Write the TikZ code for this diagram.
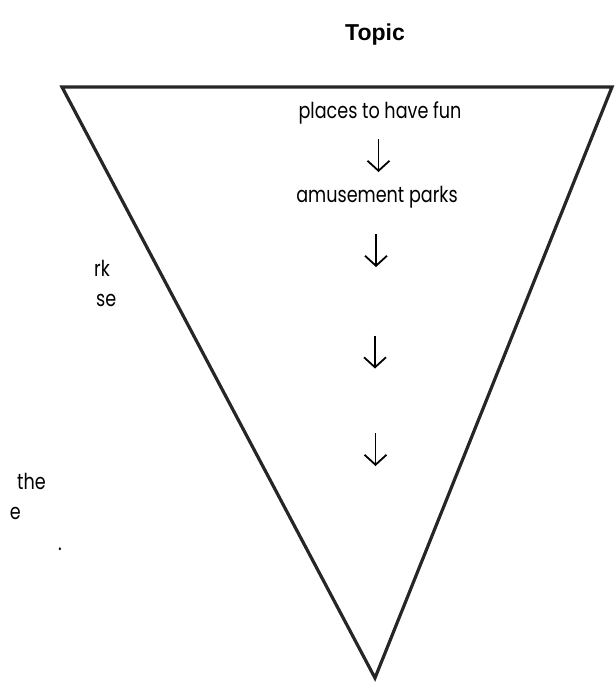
\documentclass[tikz,border=0pt]{standalone}
\usepackage{fontspec}
\setmainfont{Liberation Sans}
\newfontfamily\handfont[FakeStretch=0.8]{Poppins}
\usetikzlibrary{arrows.meta,positioning,calc}

\begin{document}
\begin{tikzpicture}[x=1pt,y=-1pt,
  edge/.style={line width=3.2pt,black!85},
  level text/.style={font=\handfont\fontsize{22}{26}\selectfont,inner sep=0pt,
    text height=17pt,text depth=6pt},
  down/.style={-{Straight Barb[length=10pt,width=22pt,line width=1.8pt]},line width=1.8pt}]
  \useasboundingbox (0,0) rectangle (616,686);
  \clip (0,0) rectangle (616,686);

  % funnel
  \coordinate (tl) at (62,87);
  \coordinate (tr) at (612,87);
  \coordinate (tip) at (375,678);
  \draw[edge] (tl) -- (tr) -- (tip) -- cycle;

  \node[font=\bfseries\fontsize{23}{27}\selectfont] (topic) at (375,35) {Topic};

  % levels
  \node[level text] (fun) at (380,113) {places to have fun};
  \node[level text] (parks) at (377,197) {amusement parks};
  \node[level text] (slot1) at (375,303) {};
  \node[level text] (slot2) at (375,400) {};
  \node[level text] (slot3) at (376,498) {};
  \foreach \a/\b in {fun/parks,parks/slot1,slot1/slot2,slot2/slot3}
    \draw[down] ($(\a.south)!.5!(\b.north)$) ++(0,-16) -- ++(0,33);

  % cut-off words on the left
  \node[level text,anchor=west] (w1) at (94,271) {rk};
  \node[level text,anchor=west] (w2) at (96,301) {se};
  \node[level text,anchor=east] (w3) at (46,484) {the};
  \node[level text,anchor=east] (w4) at (21,514) {e};
  \node[level text,anchor=west] (w5) at (58,545) {.};
\end{tikzpicture}
\end{document}
